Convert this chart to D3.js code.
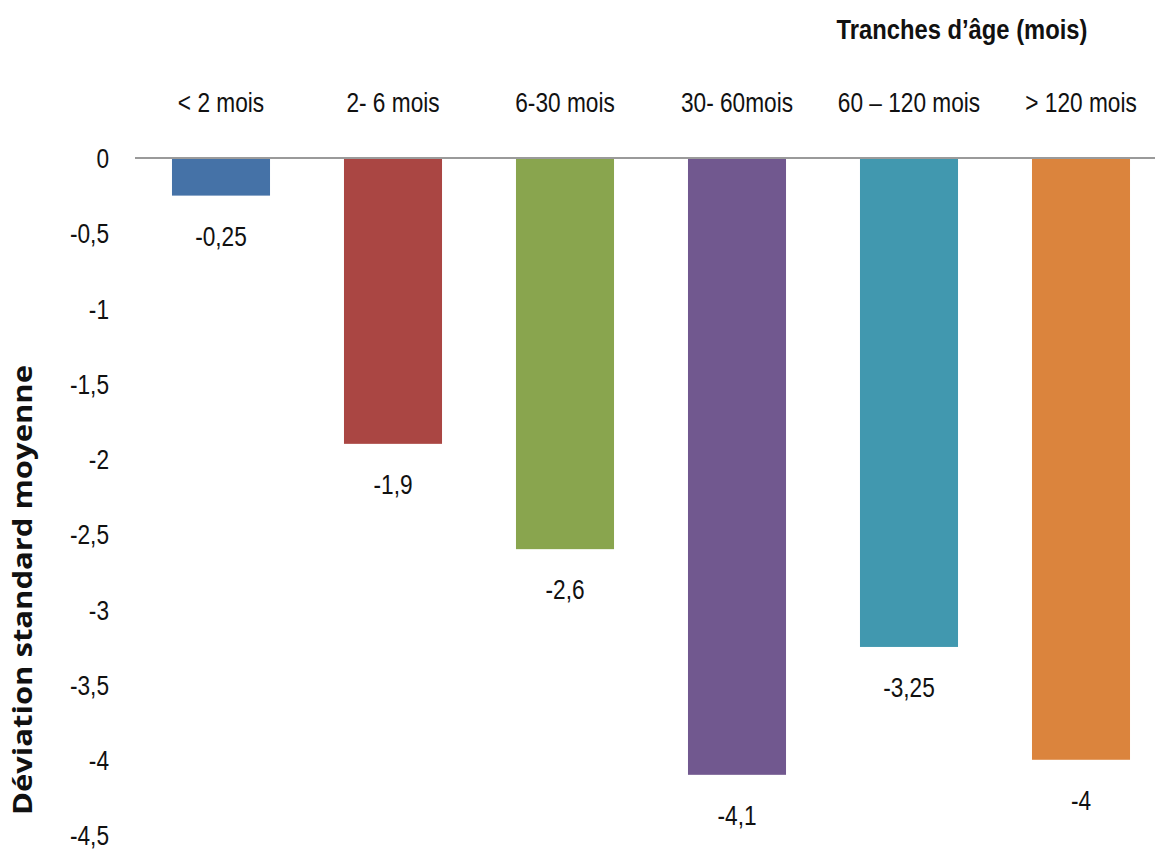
<!DOCTYPE html>
<html>
<head>
<meta charset="utf-8">
<script src="https://cdn.jsdelivr.net/npm/d3@7"></script>
<style>
  html, body { margin: 0; padding: 0; background: #fff; }
  svg { display: block; }
  .lbl { font-family: "Liberation Sans Narrow", "Liberation Sans", sans-serif; font-size: 27px; fill: #111; }
</style>
</head>
<body>
<svg id="chart" width="1155" height="861"></svg>
<script>
// Données
const categories = ['< 2 mois', '2- 6 mois', '6-30 mois', '30- 60mois', '60 – 120 mois', '> 120 mois'];
const values = [-0.25, -1.9, -2.6, -4.1, -3.25, -4];
const colors = ['#4572A7', '#AA4643', '#89A54E', '#71588F', '#4198AF', '#DB843D'];
const yTicks = [0, -0.5, -1, -1.5, -2, -2.5, -3, -3.5, -4, -4.5];

const svg = d3.select('#chart');
const fr = d3.formatLocale({ decimal: ',', thousands: ' ', grouping: [3], currency: ['', '€'], minus: '-' });
const fmt = fr.format('~g');
const SX = 0.84; // police condensée simulée

const x = d3.scaleBand()
  .domain(categories)
  .range([135, 1167])
  .paddingInner(0.43)
  .paddingOuter(0.215);

const y = d3.scaleLinear()
  .domain([0, -4.5])
  .range([158, 835]);

// Axe Y (sans ligne)
const yAxis = svg.append('g')
  .attr('transform', 'translate(109,0)')
  .call(d3.axisLeft(y).tickValues(yTicks).tickSize(0).tickPadding(0).tickFormat(fmt));
yAxis.select('.domain').remove();
yAxis.selectAll('text')
  .attr('class', 'lbl')
  .attr('x', 0)
  .attr('dy', '0.36em')
  .attr('transform', `scale(${SX},1)`)
  .style('font-size', null).style('font-family', null);
yAxis.attr('font-size', null).attr('font-family', null);

// Barres
svg.selectAll('rect.bar')
  .data(values)
  .join('rect')
  .attr('class', 'bar')
  .attr('x', (d, i) => x(categories[i]))
  .attr('y', y(0))
  .attr('width', x.bandwidth())
  .attr('height', d => y(d) - y(0))
  .attr('fill', (d, i) => colors[i]);

// Ligne zéro
svg.append('line')
  .attr('x1', 135).attr('x2', 1155)
  .attr('y1', y(0)).attr('y2', y(0))
  .attr('stroke', '#9a9a9a').attr('stroke-width', 2);

// Étiquettes de valeurs
svg.selectAll('text.val')
  .data(values)
  .join('text')
  .attr('class', 'lbl val')
  .attr('transform', (d, i) => `translate(${x(categories[i]) + x.bandwidth() / 2},${y(d) + 50}) scale(${SX},1)`)
  .attr('text-anchor', 'middle')
  .text(d => fmt(d));

// Catégories en haut
svg.selectAll('text.cat')
  .data(categories)
  .join('text')
  .attr('class', 'lbl cat')
  .attr('transform', d => `translate(${x(d) + x.bandwidth() / 2},112) scale(${SX},1)`)
  .attr('text-anchor', 'middle')
  .text(d => d);

// Titre de l'axe X
svg.append('text')
  .attr('transform', `translate(962,39) scale(${SX + 0.04},1)`)
  .attr('text-anchor', 'middle')
  .style('font-family', '"Liberation Sans Narrow", "Liberation Sans", sans-serif')
  .style('font-size', '27px').style('font-weight', 'bold').style('fill', '#111')
  .text('Tranches d’âge (mois)');

// Titre de l'axe Y
svg.append('text')
  .attr('transform', 'translate(32,590) rotate(-90)')
  .attr('text-anchor', 'middle')
  .attr('textLength', 450).attr('lengthAdjust', 'spacingAndGlyphs')
  .style('font-family', '"Open Sans", sans-serif')
  .style('font-size', '27px').style('font-weight', 'bold').style('fill', '#111')
  .text('Déviation standard moyenne');
</script>
</body>
</html>
